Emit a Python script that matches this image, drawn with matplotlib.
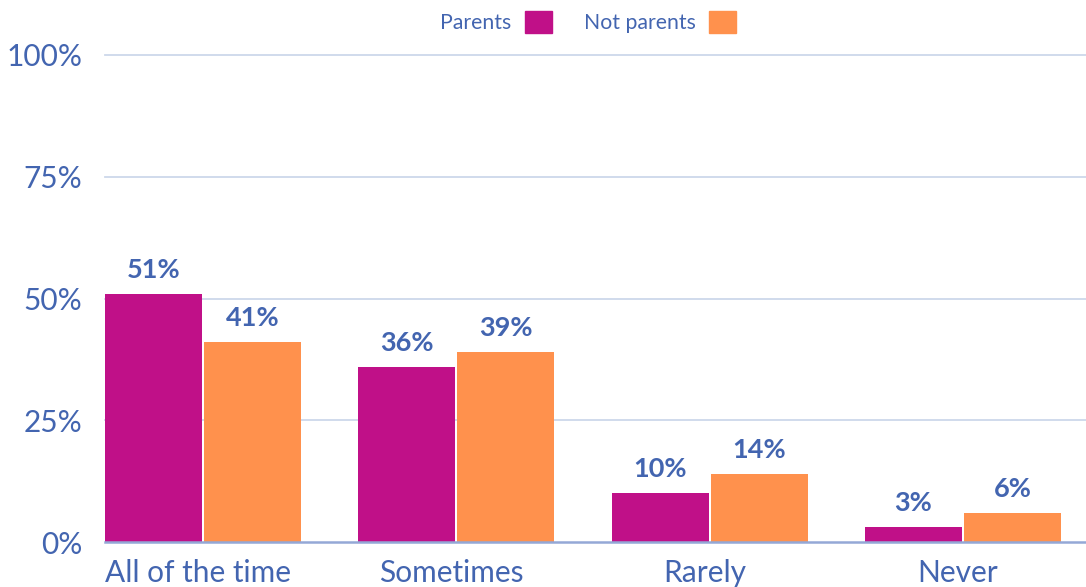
import matplotlib.pyplot as plt
from matplotlib.patches import Patch
import numpy as np

plt.rcParams['font.family'] = ['Lato', 'DejaVu Sans']

categories = ['All of the time', 'Sometimes', 'Rarely', 'Never']
parents = [51, 36, 10, 3]
not_parents = [41, 39, 14, 6]
yticks = [0, 25, 50, 75, 100]

text_color = '#4365b0'
grid_color = '#cdd8ea'
axis_color = '#94a8d6'
parents_color = '#c01088'
not_parents_color = '#ff914d'

fig = plt.figure(figsize=(10.86, 5.87), dpi=100)
ax = fig.add_axes([105 / 1086, 45 / 587, 981 / 1086, 487 / 587])

bar_w = 97 / 253.3
gap = 2 / 253.3
x = np.arange(len(categories))
x1 = x + bar_w / 2
x2 = x + bar_w + gap + bar_w / 2

for y in yticks[1:]:
    ax.axhline(y, color=grid_color, lw=1.3, zorder=0, clip_on=False)
ax.axhline(0, color=axis_color, lw=1.8, zorder=3, clip_on=False)

b1 = ax.bar(x1, parents, bar_w, color=parents_color, zorder=2)
b2 = ax.bar(x2, not_parents, bar_w, color=not_parents_color, zorder=2)

for bars, vals in ((b1, parents), (b2, not_parents)):
    for bar, v in zip(bars, vals):
        ax.annotate(f'{v}%', (bar.get_x() + bar.get_width() / 2, v),
                    xytext=(0, 11.5), textcoords='offset points',
                    ha='center', va='baseline', fontsize=19.5, fontweight='bold',
                    color=text_color)

ax.set_xlim(0, 981 / 253.3)
ax.set_ylim(0, 100)
ax.set_yticks(yticks)
ax.set_yticklabels([f'{t}%' for t in yticks])
ax.set_xticks((x1 + x2) / 2 - 0.02)
ax.set_xticklabels(categories)
ax.tick_params(axis='both', length=0, labelsize=21.5, labelcolor=text_color)
ax.tick_params(axis='y', pad=16.5)
ax.tick_params(axis='x', pad=12)
for s in ax.spines.values():
    s.set_visible(False)

handles = [Patch(color=parents_color, label='Parents'),
           Patch(color=not_parents_color, label='Not parents')]
leg = fig.legend(handles=handles, loc='center', bbox_to_anchor=(588 / 1086, 1 - 22 / 587),
                 ncol=2, frameon=False, markerfirst=False, fontsize=15.3,
                 handlelength=1.27, handleheight=1.27, handletextpad=0.65,
                 columnspacing=1.5)
for t in leg.get_texts():
    t.set_color(text_color)

fig.savefig('out.png', dpi=100)
